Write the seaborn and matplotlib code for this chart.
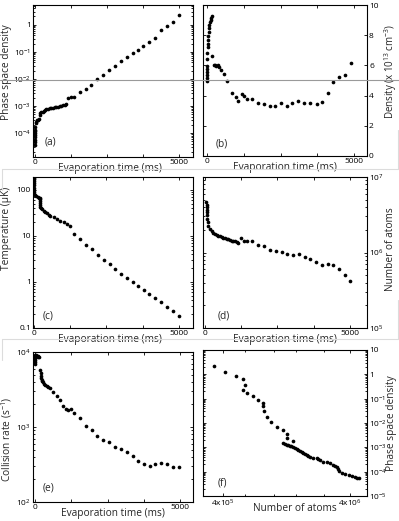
import matplotlib
matplotlib.use("Agg")
import matplotlib.pyplot as plt
from matplotlib.lines import Line2D
import seaborn as sns

# ---------------- data ----------------
# (a) phase space density vs evaporation time
t_a = [0, 0, 0, 0, 0, 5, 10, 15, 20, 35, 60, 94, 120, 150, 174, 200, 233, 270,
       312, 360, 406, 460, 521, 580, 635, 690, 753, 810, 868, 925, 983, 1040,
       1100, 1156, 1274, 1354, 1562, 1771, 1969, 2163, 2371, 2580, 2778, 2976,
       3184, 3392, 3587, 3760, 3968, 4177, 4375, 4573, 4781, 5000]
psd_a = [3.5e-5, 4.5e-5, 5.5e-5, 7e-5, 8.7e-5, 1.0e-4, 1.15e-4, 1.3e-4, 1.6e-4,
         2.3e-4, 2.6e-4, 2.9e-4, 3.1e-4, 3.3e-4, 4.7e-4, 5.3e-4, 5.8e-4, 6.2e-4,
         6.7e-4, 7.0e-4, 7.4e-4, 7.8e-4, 8.1e-4, 8.4e-4, 8.6e-4, 8.9e-4, 9.1e-4,
         9.4e-4, 9.6e-4, 1.0e-3, 1.05e-3, 1.1e-3, 1.2e-3, 1.9e-3, 2.2e-3, 2.2e-3,
         3.3e-3, 4.3e-3, 6.0e-3, 1.0e-2, 1.4e-2, 2.2e-2, 3.0e-2, 4.6e-2, 6.5e-2,
         8.9e-2, 0.12, 0.16, 0.23, 0.33, 0.61, 0.87, 1.25, 2.3]

# (b) density (1e13 cm^-3) vs evaporation time
t_b = [0, 0, 0, 0, 0, 0, 10, 15, 25, 30, 35, 45, 55, 65, 80, 100, 120, 145, 175,
       180, 240, 280, 320, 370, 400, 476, 590, 680, 840, 976, 1066, 1180, 1270,
       1350, 1542, 1746, 1939, 2143, 2313, 2517, 2731, 2901, 3105, 3310, 3503,
       3731, 3901, 4105, 4297, 4490, 4694, 4898]
dens_b = [4.95, 5.15, 5.35, 5.55, 5.75, 5.95, 6.4, 6.8, 7.2, 7.45, 7.7, 7.95, 8.2,
          8.45, 8.65, 8.85, 9.0, 9.15, 9.3,
          6.6, 6.0, 6.05, 5.95, 6.0, 5.9, 5.7, 5.43, 4.97, 4.19, 3.89, 3.64, 4.08,
          3.97, 3.75, 3.77, 3.49, 3.44, 3.31, 3.31, 3.53, 3.31, 3.53, 3.64, 3.53,
          3.49, 3.42, 3.6, 4.15, 4.92, 5.25, 5.36, 6.14]

# (c) temperature (uK) vs evaporation time
t_c = [0, 0, 0, 0, 0, 0, 0, 0, 0, 40, 86, 130, 165, 199, 223, 223, 223, 223, 223,
       240, 282, 337, 395, 453, 510, 567, 681, 796, 910, 1025, 1140, 1254, 1392,
       1598, 1804, 1999, 2192, 2398, 2605, 2800, 2996, 3202, 3408, 3601, 3797,
       3979, 4185, 4381, 4577, 4783, 5000]
temp_c = [185, 170, 155, 140, 125, 112, 100, 90, 82, 78, 72, 69, 67, 65, 62, 57,
          52, 47, 43, 40, 38, 35, 33, 31, 29, 27.3, 25.2, 23.2, 21.4, 19.8, 17.9,
          16.3, 11.2, 8.5, 6.5, 5.1, 3.9, 3.05, 2.4, 1.88, 1.52, 1.21, 0.98,
          0.81, 0.67, 0.55, 0.44, 0.36, 0.29, 0.235, 0.185]

# (d) number of atoms vs evaporation time
t_d = [50, 55, 60, 65, 70, 78, 85, 95, 115, 172, 230, 287, 345, 400, 460, 520,
       575, 630, 690, 750, 805, 860, 920, 975, 1034, 1090, 1149, 1241, 1356,
       1437, 1632, 1839, 2035, 2242, 2437, 2644, 2840, 3046, 3242, 3449, 3621,
       3817, 4023, 4230, 4426, 4621, 4828, 5000]
atoms_d = [4.6e6, 4.3e6, 4.0e6, 3.7e6, 3.4e6, 3.1e6, 2.8e6, 2.5e6, 2.26e6, 2.05e6,
           1.92e6, 1.81e6, 1.75e6, 1.70e6, 1.66e6, 1.63e6, 1.60e6, 1.57e6, 1.54e6,
           1.52e6, 1.50e6, 1.47e6, 1.44e6, 1.42e6, 1.40e6, 1.37e6, 1.35e6, 1.57e6,
           1.40e6, 1.44e6, 1.44e6, 1.27e6, 1.21e6, 1.08e6, 1.05e6, 1.02e6, 0.95e6,
           0.93e6, 0.95e6, 0.87e6, 0.83e6, 0.74e6, 0.68e6, 0.70e6, 0.68e6, 0.61e6,
           0.51e6, 0.42e6]

# (e) collision rate (s^-1) vs evaporation time
t_e = [0, 0, 0, 0, 0, 0, 30, 60, 90, 120, 150, 172, 195, 207, 215, 230, 250, 264,
       310, 356, 402, 460, 517, 632, 747, 862, 977, 1069, 1149, 1230, 1345, 1552,
       1759, 1954, 2149, 2356, 2563, 2759, 2954, 3161, 3368, 3563, 3759, 3966,
       4149, 4345, 4540, 4747, 4965]
rate_e = [7000, 7400, 7800, 8200, 8600, 9000, 9000, 8900, 8800, 8700, 8600, 5700,
          5240, 4830, 4500, 4290, 4070, 3960, 3800, 3650, 3510, 3400, 3340, 2940,
          2610, 2310, 1930, 1750, 1660, 1750, 1550, 1300, 1040, 915, 750, 677,
          632, 539, 513, 465, 412, 355, 321, 305, 321, 334, 321, 296, 296]

# (f) phase space density vs number of atoms
atoms_f = [3.44e5, 4.17e5, 5.09e5, 5.75e5, 6.0e5, 5.75e5, 6.2e5, 6.9e5, 7.56e5,
           8.3e5, 8.2e5, 8.4e5, 8.95e5, 9.5e5, 1.07e6, 1.19e6, 1.27e6, 1.27e6,
           1.43e6, 1.19e6, 1.23e6, 1.27e6, 1.30e6, 1.34e6, 1.38e6, 1.43e6, 1.47e6,
           1.52e6, 1.56e6, 1.61e6, 1.66e6, 1.71e6, 1.76e6, 1.82e6, 1.87e6, 1.93e6,
           2.05e6, 2.18e6, 2.25e6, 2.32e6, 2.46e6, 2.62e6, 2.78e6, 2.95e6, 3.05e6,
           3.14e6, 3.2e6, 3.27e6, 3.43e6, 3.65e6, 3.88e6, 4.12e6, 4.33e6, 4.52e6,
           4.66e6]
psd_f = [2.2, 1.28, 0.89, 0.62, 0.36, 0.23, 0.17, 0.125, 0.092, 0.068, 0.050,
         0.032, 0.0175, 0.0111, 0.0071, 0.0052, 0.0036, 0.0025, 0.0018, 1.47e-3,
         1.4e-3, 1.30e-3, 1.23e-3, 1.16e-3, 1.1e-3, 1.06e-3, 9.5e-4, 8.5e-4,
         7.9e-4, 7.3e-4, 6.6e-4, 5.9e-4, 5.4e-4, 5.0e-4, 4.4e-4, 3.9e-4, 3.7e-4,
         3.5e-4, 3.2e-4, 3.0e-4, 2.6e-4, 2.4e-4, 2.2e-4, 1.9e-4, 1.7e-4, 1.5e-4,
         1.3e-4, 1.1e-4, 8.9e-5, 8.1e-5, 7.2e-5, 6.6e-5, 6.0e-5, 5.3e-5, 5.3e-5]

time_ticks = [0, 1250, 2500, 3750, 5000]
time_ticklabels = ["0", "", "", "", "5000"]

# ---------------- style ----------------
sns.set_theme(style="ticks")
plt.rcParams["font.family"] = ["Open Sans", "DejaVu Sans"]
plt.rcParams["mathtext.default"] = "regular"

W, H = 399, 521
fig = plt.figure(figsize=(W / 100, H / 100), dpi=100)
fig.patch.set_facecolor("white")


def box(l, t, r, b):
    return [l / W, 1 - b / H, (r - l) / W, (b - t) / H]


LAB = 7.3
TICK = 6.0


def style(ax, right=False):
    for s in ax.spines.values():
        s.set_visible(True)
        s.set_linewidth(0.8)
        s.set_color("black")
    ax.tick_params(which="both", direction="in", top=True, bottom=True,
                   left=True, right=True, colors="black", labelsize=TICK,
                   pad=1.5, width=0.6)
    ax.tick_params(which="major", length=2.5)
    ax.tick_params(which="minor", length=1.3)
    if right:
        ax.tick_params(axis="y", labelleft=False, labelright=True)
        ax.yaxis.set_label_position("right")
    ax.set_facecolor("white")
    ax.grid(False)


def ylab(ax, txt, x, y, size=LAB):
    ax.set_ylabel(txt, fontsize=size)
    ax.yaxis.set_label_coords(x, y)
    ax.yaxis.label.set_va("center")
    ax.yaxis.label.set_ha("center")


def scatter(ax, x, y):
    sns.scatterplot(x=x, y=y, ax=ax, color="black", s=7, linewidth=0,
                    legend=False)


def time_axis(ax, xlim, label_xy):
    ax.set_xlim(*xlim)
    ax.set_xticks(time_ticks)
    ax.set_xticklabels(time_ticklabels)
    ax.set_xlabel("Evaporation time (ms)", fontsize=LAB)
    ax.xaxis.set_label_coords(*label_xy)
    ax.xaxis.label.set_va("center")


def letter(ax, txt, x, y):
    ax.text(x, y, txt, transform=ax.transAxes, fontsize=LAB, va="center",
            ha="left")


# (a)
ax = fig.add_axes(box(33, 5, 193, 157))
scatter(ax, t_a, psd_a)
ax.set_yscale("log")
ax.set_ylim(1.3e-5, 5.3)
ax.set_yticks([1e-4, 1e-3, 1e-2, 1e-1, 1])
ax.set_yticklabels(["$10^{-4}$", "$10^{-3}$", "$10^{-2}$", "$10^{-1}$", "1"])
style(ax)
time_axis(ax, (-60, 5490), (0.48, -0.075))
ylab(ax, "Phase space density", -0.165, 0.56)
letter(ax, "(a)", 0.07, 0.1)

# (b)
ax = fig.add_axes(box(203, 5, 367, 156))
scatter(ax, t_b, dens_b)
ax.set_ylim(0, 10)
ax.set_yticks([0, 2, 4, 6, 8, 10])
style(ax, right=True)
time_axis(ax, (-136, 5440), (0.5, -0.075))
ylab(ax, "Density (x 10$^{13}$ cm$^{-3}$)", 1.145, 0.56, size=7.0)
letter(ax, "(b)", 0.08, 0.08)

# (c)
ax = fig.add_axes(box(33, 177, 193, 328))
scatter(ax, t_c, temp_c)
ax.set_yscale("log")
ax.set_ylim(0.1, 190)
ax.set_yticks([0.1, 1, 10, 100])
ax.set_yticklabels(["0.1", "1", "10", "100"])
style(ax)
time_axis(ax, (-30, 5480), (0.48, -0.075))
ylab(ax, "Temperature (μK)", -0.165, 0.66)
letter(ax, "(c)", 0.06, 0.08)

# (d)
ax = fig.add_axes(box(203, 177, 367, 328))
scatter(ax, t_d, atoms_d)
ax.set_yscale("log")
ax.set_ylim(1e5, 1e7)
ax.set_yticks([1e5, 1e6, 1e7])
ax.set_yticklabels(["$10^{5}$", "$10^{6}$", "$10^{7}$"])
style(ax, right=True)
time_axis(ax, (-69, 5590), (0.5, -0.075))
ylab(ax, "Number of atoms", 1.145, 0.52)
letter(ax, "(d)", 0.09, 0.08)

# (e)
ax = fig.add_axes(box(33, 352, 193, 502))
scatter(ax, t_e, rate_e)
ax.set_yscale("log")
ax.set_ylim(100, 1e4)
ax.set_yticks([1e2, 1e3, 1e4])
ax.set_yticklabels(["$10^{2}$", "$10^{3}$", "$10^{4}$"])
style(ax)
time_axis(ax, (-69, 5448), (0.5, -0.075))
ylab(ax, "Collision rate (s$^{-1}$)", -0.165, 0.42)
letter(ax, "(e)", 0.06, 0.09)

# (f)
ax = fig.add_axes(box(203, 350, 367, 496))
scatter(ax, atoms_f, psd_f)
ax.set_xscale("log")
ax.set_yscale("log")
ax.set_xlim(2.8e5, 5.4e6)
ax.set_ylim(1e-5, 10)
ax.set_xticks([4e5, 4e6])
ax.set_xticklabels(["4x10$^{5}$", "4x10$^{6}$"])
ax.set_xticks([6e5, 1e6, 1.5e6, 2.5e6], minor=True)
ax.set_xticklabels([], minor=True)
ax.set_yticks([1e-5, 1e-4, 1e-3, 1e-2, 1e-1, 1, 10])
ax.set_yticklabels(["$10^{-5}$", "$10^{-4}$", "$10^{-3}$", "$10^{-2}$",
                    "$10^{-1}$", "1", "10"])
style(ax, right=True)
ax.set_xlabel("Number of atoms", fontsize=LAB)
ax.xaxis.set_label_coords(0.56, -0.085)
ax.xaxis.label.set_va("center")
ylab(ax, "Phase space density", 1.15, 0.5)
letter(ax, "(f)", 0.09, 0.09)

# figure guide lines
fig.add_artist(Line2D([0, 1], [1 - 80 / H, 1 - 80 / H], transform=fig.transFigure,
                      color="#9a9a9a", lw=0.8))
light = "#dcdcdc"
for yy, ytop, ybot in [(169, 130, 190), (339, 300, 360)]:
    fig.add_artist(Line2D([2 / W, 397.5 / W], [1 - yy / H, 1 - yy / H],
                          transform=fig.transFigure, color=light, lw=0.8))
    fig.add_artist(Line2D([397.5 / W, 397.5 / W], [1 - ytop / H, 1 - yy / H],
                          transform=fig.transFigure, color=light, lw=0.8))
    fig.add_artist(Line2D([2 / W, 2 / W], [1 - yy / H, 1 - ybot / H],
                          transform=fig.transFigure, color=light, lw=0.8))

fig.savefig("out.png", dpi=100, facecolor="white")
